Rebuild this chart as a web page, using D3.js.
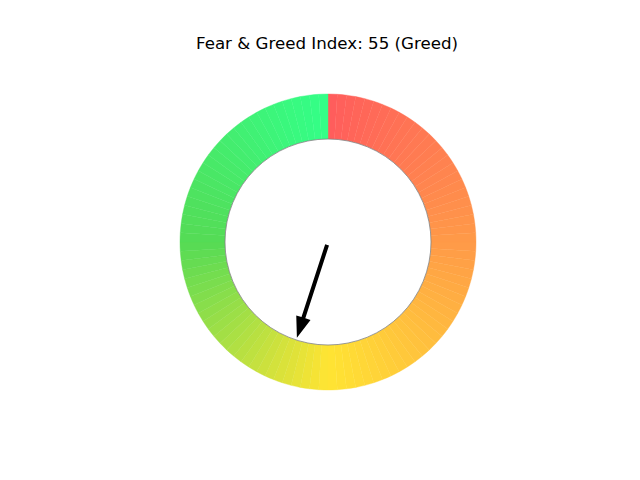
<!DOCTYPE html>
<html>
<head>
<meta charset="utf-8">
<script src="https://cdn.jsdelivr.net/npm/d3@7"></script>
<style>
    body { margin: 0; background: #fff; }
    .title { font-family: "DejaVu Sans", sans-serif; font-size: 16.67px; fill: #000; }
</style>
</head>
<body>
<div id="chart"></div>
<script>
const indexValue = 55;
const indexLabel = "Greed";
const segmentCount = 100;
const gradientStops = [0, 0.25, 0.5, 0.75, 1];
const gradientColors = ["#ff5c5c", "#ff9a48", "#ffe433", "#55db55", "#33ff88"];

const buildGauge = element => {
    const width = 640;
    const height = 480;
    const cx = 328;
    const cy = 242;
    const outerRadius = 148;
    const innerRadius = 103;
    const shaftWidth = 4;
    const headWidth = 15;
    const headLength = 21;

    const svg = d3.select(element)
        .append("svg")
        .attr("width", width)
        .attr("height", height);

    svg.append("text")
        .attr("x", 327)
        .attr("y", 49)
        .attr("text-anchor", "middle")
        .attr("class", "title")
        .text(`Fear & Greed Index: ${indexValue} (${indexLabel})`);

    const color = d3.scaleLinear()
        .domain(gradientStops)
        .range(gradientColors)
        .interpolate(d3.interpolateRgb);

    const angle = d3.scaleLinear()
        .domain([0, segmentCount])
        .range([0, 2 * Math.PI]);

    const radius = d3.scaleLinear()
        .domain([0, 1])
        .range([0, outerRadius]);

    const segments = d3.range(segmentCount);

    const arc = d3.arc()
        .innerRadius(innerRadius)
        .outerRadius(outerRadius)
        .startAngle(d => angle(d))
        .endAngle(d => angle(d + 1));

    const g = svg.append("g")
        .attr("transform", `translate(${cx},${cy})`);

    g.selectAll("path.segment")
        .data(segments)
        .join("path")
        .attr("class", "segment")
        .attr("d", arc)
        .attr("fill", d => color((d + 0.5) / segmentCount))
        .attr("stroke", d => color((d + 0.5) / segmentCount))
        .attr("stroke-width", 0.4);

    // inner hole with thin grey edge
    g.append("circle")
        .attr("r", innerRadius)
        .attr("fill", "#fff")
        .attr("stroke", "#808080")
        .attr("stroke-width", 0.8);

    // needle
    const a = angle(indexValue);
    const ux = Math.sin(a), uy = -Math.cos(a);
    const px = -uy, py = ux;
    const tailR = radius(0.02);
    const tipR = radius(0.68);
    const baseR = tipR - headLength;
    const pt = (r, off) => [ux * r + px * off, uy * r + py * off];
    const needle = [
        pt(tailR, -shaftWidth / 2),
        pt(baseR, -shaftWidth / 2),
        pt(baseR, -headWidth / 2),
        pt(tipR, 0),
        pt(baseR, headWidth / 2),
        pt(baseR, shaftWidth / 2),
        pt(tailR, shaftWidth / 2)
    ];

    g.append("path")
        .attr("d", d3.line()(needle) + "Z")
        .attr("fill", "#000");
}

buildGauge(document.getElementById("chart"));
</script>
</body>
</html>
